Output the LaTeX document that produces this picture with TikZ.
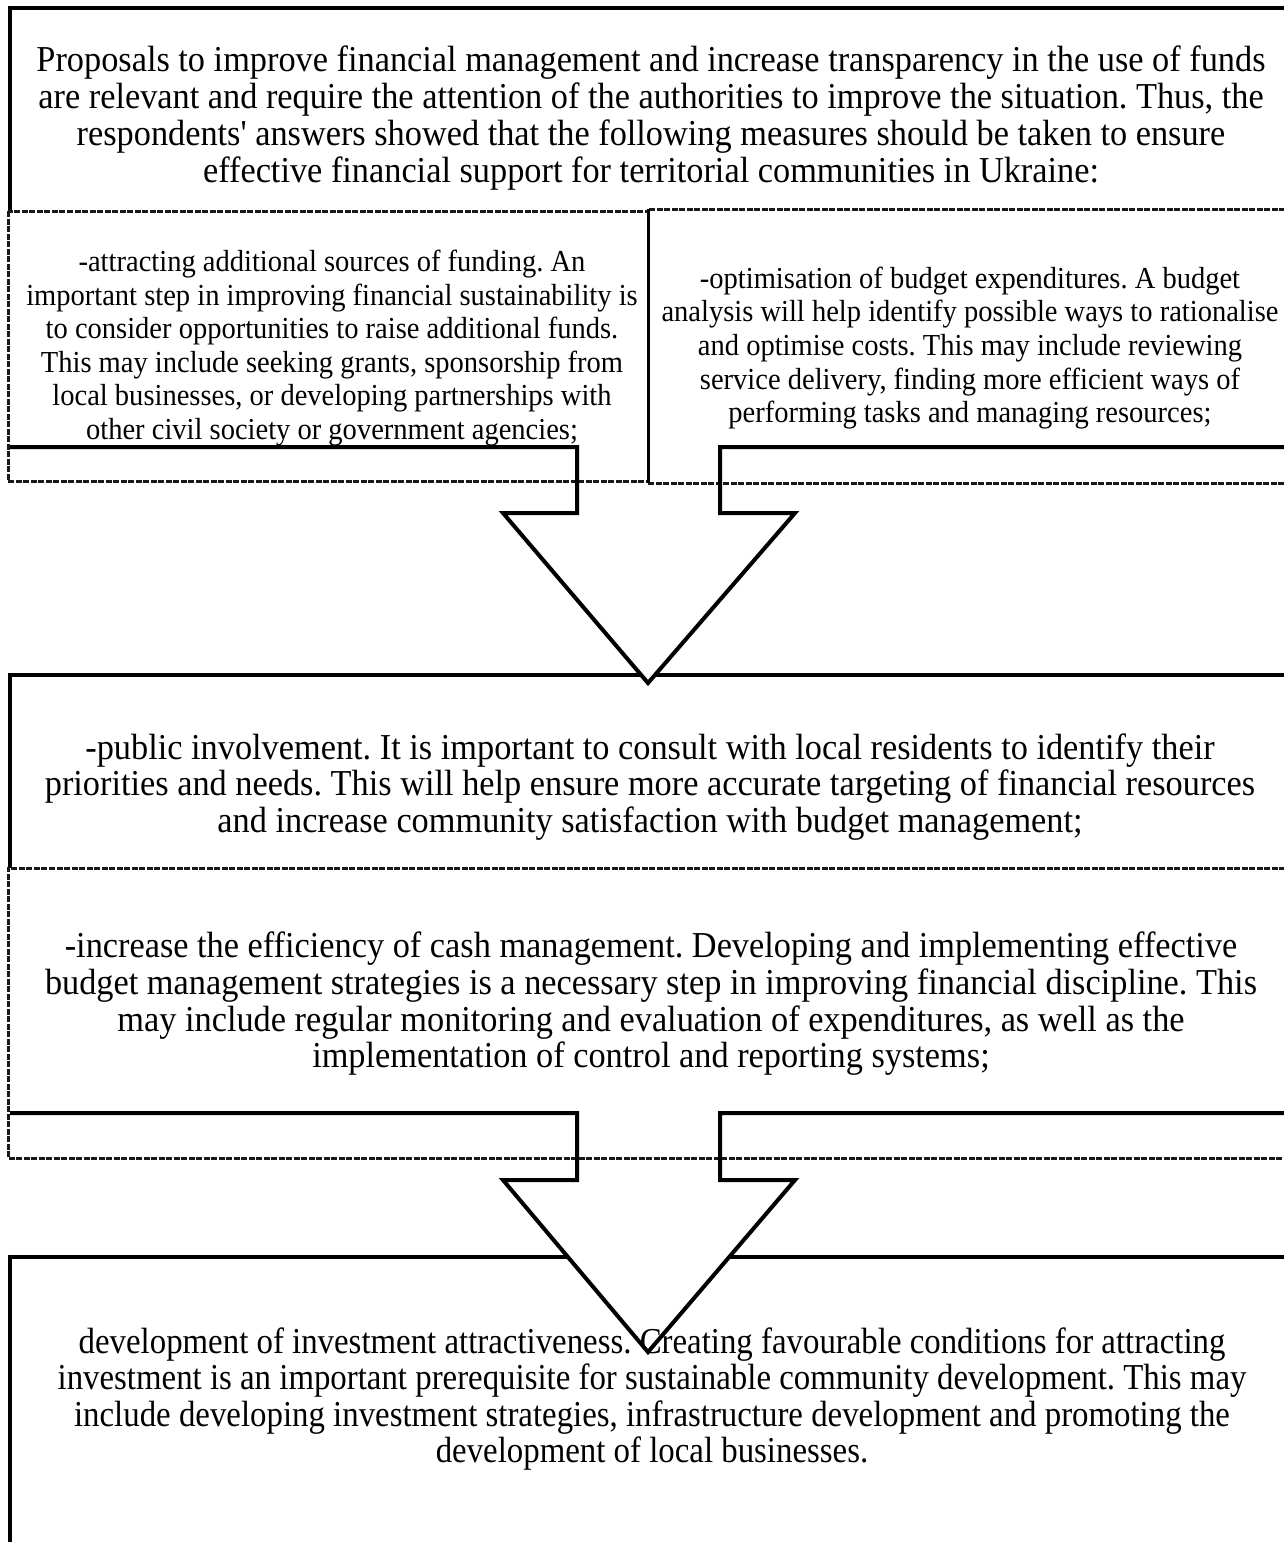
\documentclass[tikz,border=0pt]{standalone}
\usepackage{fontspec}
\newfontfamily\tnrA[FakeStretch=0.94]{Liberation Serif}
\newfontfamily\tnrB[FakeStretch=0.90]{Liberation Serif}
\newfontfamily\tnrC[FakeStretch=0.935]{Liberation Serif}
\frenchspacing
\begin{document}
\begin{tikzpicture}[x=1pt,y=-1pt,
  solidline/.style={line width=3.5pt, line join=miter},
  dashline/.style={line width=3pt, black!90, dash pattern=on 6pt off 1.5pt},
  arrowline/.style={line width=4pt, line join=miter},
  bigtext/.style={font=\tnrA\fontsize{36.5}{36.7}\selectfont, align=center, inner sep=0pt},
  lasttext/.style={font=\tnrB\fontsize{36.5}{36.2}\selectfont, align=center, inner sep=0pt},
  smalltext/.style={font=\tnrC\fontsize{30.5}{33.6}\selectfont, align=center, inner sep=0pt}]
\clip (0,0) rectangle (1284,1542);
\fill[white] (0,0) rectangle (1284,1542);

% top box
\draw[solidline] (1300,8) -- (10,8) -- (10,210);
\node[bigtext] (top) at (651,118) {\frenchspacing Proposals to improve financial management and increase transparency in the use of funds\\
are relevant and require the attention of the authorities to improve the situation. Thus, the\\
respondents' answers showed that the following measures should be taken to ensure\\
effective financial support for territorial communities in Ukraine:};

% left and right boxes
\draw[dashline] (8,211) rectangle (648,481);
\draw[dashline] (1300,209) -- (648,209);
\draw[dashline] (648,483) -- (1300,483);
\draw[line width=3pt] (648,209) -- (648,483);
\node[smalltext] (fund) at (332,348) {\frenchspacing -attracting additional sources of funding. An\\
important step in improving financial sustainability is\\
to consider opportunities to raise additional funds.\\
This may include seeking grants, sponsorship from\\
local businesses, or developing partnerships with\\
other civil society or government agencies;};
\node[smalltext] (optim) at (970,348) {\frenchspacing -optimisation of budget expenditures. A budget\\
analysis will help identify possible ways to rationalise\\
and optimise costs. This may include reviewing\\
service delivery, finding more efficient ways of\\
performing tasks and managing resources;};

% box 2
\draw[solidline] (1300,675) -- (10,675) -- (10,868);
\node[bigtext] (pub) at (650,787) {\frenchspacing -public involvement. It is important to consult with local residents to identify their\\
priorities and needs. This will help ensure more accurate targeting of financial resources\\
and increase community satisfaction with budget management;};

% box 2b
\draw[dashline] (1300,868) -- (8,868) -- (8,1158) -- (1300,1158);
\node[bigtext] (cash) at (651,1004) {\frenchspacing -increase the efficiency of cash management. Developing and implementing effective\\
budget management strategies is a necessary step in improving financial discipline. This\\
may include regular monitoring and evaluation of expenditures, as well as the\\
implementation of control and reporting systems;};

% arrow 1
\fill[white] (503,513) -- (648,683) -- (795,513) -- cycle;
\draw[arrowline] (10,447) -- (577,447) -- (577,513) -- (503,513) -- (648,683) -- (795,513) -- (720,513) -- (720,447) -- (1300,447);

% box 3
\draw[solidline] (1300,1257) -- (10,1257) -- (10,1560);
\fill[white] (503,1180) -- (648,1352) -- (795,1180) -- cycle;
\node[lasttext] (inv) at (652,1399) {\frenchspacing development of investment attractiveness. Creating favourable conditions for attracting\\
investment is an important prerequisite for sustainable community development. This may\\
include developing investment strategies, infrastructure development and promoting the\\
development of local businesses.};

% arrow 2
\draw[arrowline] (10,1113) -- (577,1113) -- (577,1180) -- (503,1180) -- (648,1352) -- (795,1180) -- (720,1180) -- (720,1113) -- (1300,1113);
\end{tikzpicture}
\end{document}
